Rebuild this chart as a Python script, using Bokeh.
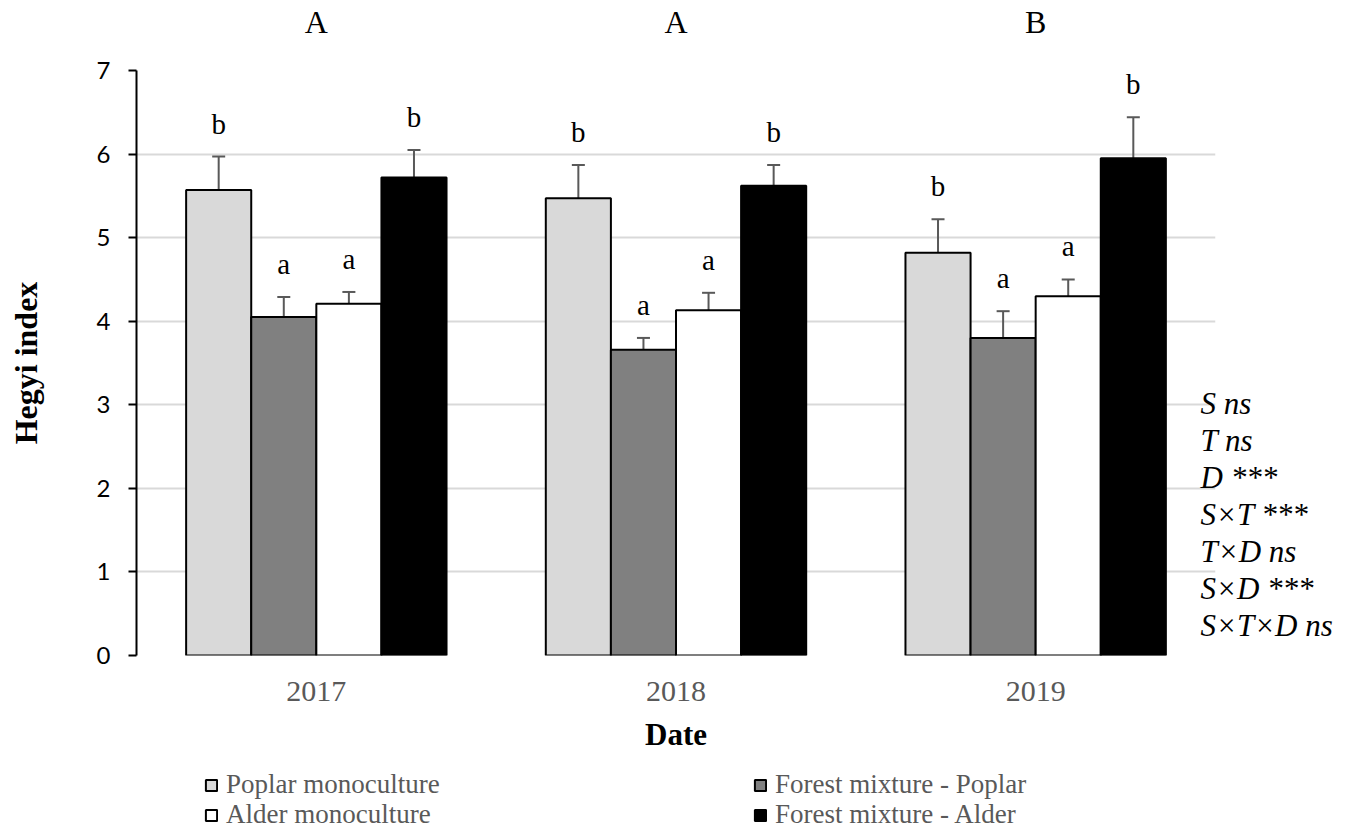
from bokeh.plotting import figure
from bokeh.layouts import column
from bokeh.models import (ColumnDataSource, Whisker, TeeHead, Legend, LegendItem,
                          SingleIntervalTicker, FixedTicker, LinearAxis)
from bokeh.transform import dodge
from bokeh.core.properties import value
from bokeh.embed import file_html
from bokeh.resources import INLINE

years = ["2017", "2018", "2019"]
series = ["Poplar monoculture", "Forest mixture - Poplar",
          "Alder monoculture", "Forest mixture - Alder"]
colors = ["#d9d9d9", "#808080", "#ffffff", "#000000"]

poplar_mono = [5.57, 5.47, 4.82]
forest_poplar = [4.05, 3.66, 3.80]
alder_mono = [4.21, 4.13, 4.30]
forest_alder = [5.72, 5.62, 5.95]

poplar_mono_se = [0.40, 0.40, 0.40]
forest_poplar_se = [0.24, 0.14, 0.32]
alder_mono_se = [0.14, 0.21, 0.20]
forest_alder_se = [0.33, 0.25, 0.49]

poplar_mono_letters = ["b", "b", "b"]
forest_poplar_letters = ["a", "a", "a"]
alder_mono_letters = ["a", "a", "a"]
forest_alder_letters = ["b", "b", "b"]

year_letters = ["A", "A", "B"]
stats_lines = ["S ns", "T ns", "D ***", "S\u00d7T ***", "T\u00d7D ns",
               "S\u00d7D ***", "S\u00d7T\u00d7D ns"]

means = [poplar_mono, forest_poplar, alder_mono, forest_alder]
ses = [poplar_mono_se, forest_poplar_se, alder_mono_se, forest_alder_se]
letters = [poplar_mono_letters, forest_poplar_letters, alder_mono_letters, forest_alder_letters]

SERIF = "Liberation Serif"
bw = 0.181
YMAX = 7
W = 1356

# category centres on a numeric scale (one unit per year)
grp_pos = [i + 0.5 for i in range(len(years))]

p = figure(x_range=(0, len(years)), y_range=(0, YMAX), width=W, height=765,
           output_backend="svg", toolbar_location=None,
           min_border_left=136, min_border_top=69, min_border_right=141,
           min_border_bottom=110)
p.outline_line_color = None
p.background_fill_color = "white"
p.border_fill_color = "white"

p.xgrid.grid_line_color = None
p.ygrid.grid_line_color = "#d9d9d9"
p.ygrid.grid_line_width = 2
p.yaxis.ticker = SingleIntervalTicker(interval=1)

p.yaxis.axis_line_color = "black"
p.yaxis.axis_line_width = 2
p.yaxis.major_tick_line_color = "black"
p.yaxis.major_tick_line_width = 2
p.yaxis.major_tick_out = 8
p.yaxis.major_tick_in = 0
p.yaxis.minor_tick_line_color = None
p.yaxis.major_label_text_font = "Lato"
p.yaxis.major_label_text_font_size = "24px"
p.yaxis.major_label_text_color = "black"
p.yaxis.major_label_standoff = 18
p.yaxis.axis_label = "Hegyi index"
p.yaxis.axis_label_text_font = SERIF
p.yaxis.axis_label_text_font_style = "bold"
p.yaxis.axis_label_text_font_size = "32px"
p.yaxis.axis_label_text_color = "black"
p.yaxis.axis_label_standoff = 50

p.xaxis.ticker = FixedTicker(ticks=grp_pos)
p.xaxis.major_label_overrides = dict(zip(grp_pos, years))
p.xaxis.axis_line_color = None
p.xaxis.major_tick_line_color = None
p.xaxis.minor_tick_line_color = None
p.xaxis.major_tick_out = 0
p.xaxis.major_label_text_font = SERIF
p.xaxis.major_label_text_font_size = "30px"
p.xaxis.major_label_text_color = "#595959"
p.xaxis.major_label_standoff = 26
p.xaxis.axis_label = "Date"
p.xaxis.axis_label_text_font = SERIF
p.xaxis.axis_label_text_font_style = "bold"
p.xaxis.axis_label_text_font_size = "31px"
p.xaxis.axis_label_text_color = "black"
p.xaxis.axis_label_standoff = 13

# group letters above the plot
top_axis = LinearAxis(ticker=FixedTicker(ticks=grp_pos),
                      major_label_overrides=dict(zip(grp_pos, year_letters)))
top_axis.axis_line_color = None
top_axis.major_tick_line_color = None
top_axis.minor_tick_line_color = None
top_axis.major_tick_out = 0
top_axis.major_label_standoff = 31
top_axis.major_label_text_font = SERIF
top_axis.major_label_text_font_size = "32px"
top_axis.major_label_text_color = "black"
p.add_layout(top_axis, "above")

# statistics on the right
stat_pos = [3.01 - 0.442 * i for i in range(len(stats_lines))]
right_axis = LinearAxis(ticker=FixedTicker(ticks=stat_pos),
                        major_label_overrides=dict(zip(stat_pos, stats_lines)))
right_axis.axis_line_color = None
right_axis.major_tick_line_color = None
right_axis.minor_tick_line_color = None
right_axis.major_tick_out = 0
right_axis.major_label_standoff = -15
right_axis.major_label_text_font = SERIF
right_axis.major_label_text_font_style = "italic"
right_axis.major_label_text_font_size = "31px"
right_axis.major_label_text_color = "black"
p.add_layout(right_axis, "right")

for i, name in enumerate(series):
    off = (i - 1.5) * bw
    top = [m + s for m, s in zip(means[i], ses[i])]
    src = ColumnDataSource(dict(xc=grp_pos, mean=means[i], top=top, letter=letters[i]))
    p.vbar(x=dodge("xc", off), top="mean", bottom=0, width=bw,
           source=src, fill_color=colors[i], line_color="black", line_width=2)
    w = Whisker(base=dodge("xc", off), lower="mean", upper="top",
                source=src, line_color="#595959", line_width=2, lower_head=None,
                upper_head=TeeHead(size=13, line_color="#595959", line_width=2))
    p.add_layout(w)
    p.text(x=dodge("xc", off), y="top", text="letter", source=src,
           y_offset=-33, text_align="center", text_baseline="middle",
           text_font=value(SERIF), text_font_size="29px", text_color="black")

# legend panel (proxy renderers with no drawable coordinates)
lg = figure(width=W, height=65, output_backend="svg", toolbar_location=None,
            min_border=0, x_axis_location=None, y_axis_location=None,
            x_range=(0, 1), y_range=(0, 1))
lg.grid.visible = False
lg.outline_line_color = None
lg.border_fill_color = "white"
nan = float("nan")
proxies = []
for i, name in enumerate(series):
    r = lg.vbar(x=[nan], top=[nan], width=0.1, fill_color=colors[i], line_color="black",
                line_width=2)
    proxies.append(LegendItem(label=name, renderers=[r]))

legend_style = dict(orientation="horizontal", border_line_color=None,
                    background_fill_alpha=0, label_text_font=SERIF,
                    label_text_font_size="27px", label_text_color="#595959",
                    glyph_width=14, glyph_height=14, label_standoff=8,
                    label_width=522, label_height=28, spacing=5, padding=0, margin=0)
lg.add_layout(Legend(items=[proxies[0], proxies[1]], location=(68, 30), **legend_style))
lg.add_layout(Legend(items=[proxies[2], proxies[3]], location=(68, 0), **legend_style))

open("out.html", "w").write(file_html(column(p, lg), INLINE))
